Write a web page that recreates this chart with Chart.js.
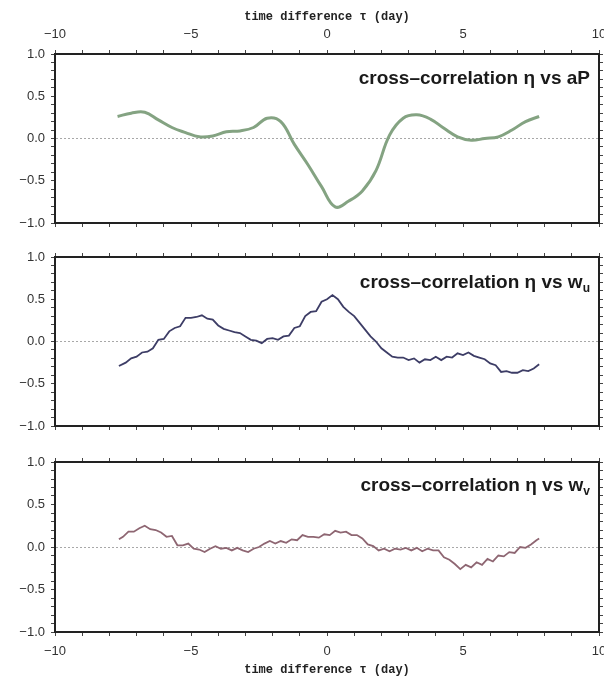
<!DOCTYPE html>
<html lang="en">
<head>
  <meta charset="UTF-8">
  <title>Cross-correlation vs time difference</title>
  <script src="https://cdn.jsdelivr.net/npm/chart.js"></script>
  <style>
    body { margin: 0; background: #fff; }
    #wrap { position: relative; width: 604px; height: 679px; overflow: hidden; }
    #wrap canvas { position: absolute; left: 0; }
    .ptitle {
      position: absolute;
      right: 14px;
      font: bold 19px "Liberation Sans", Arial, sans-serif;
      line-height: 20px;
      color: #1a1a1a;
      white-space: nowrap;
    }
    .ptitle sub { font-size: 12px; vertical-align: -4px; }
  </style>
</head>
<body>
  <div id="wrap">
    <canvas id="c1" width="604" height="240" style="top:0"></canvas>
    <canvas id="c2" width="604" height="200" style="top:240px"></canvas>
    <canvas id="c3" width="604" height="239" style="top:440px"></canvas>
    <div class="ptitle" style="top:68px">cross–correlation η vs aP</div>
    <div class="ptitle" style="top:272px">cross–correlation η vs w<sub>u</sub></div>
    <div class="ptitle" style="top:475px">cross–correlation η vs w<sub>v</sub></div>
  </div>

  <script>
    // time lag tau (day) and correlation values
    const tauAP = [-7.7, -7.2, -6.7, -6.2, -5.7, -5.2, -4.7, -4.2, -3.7, -3.2, -2.7, -2.2, -1.7, -1.2, -0.7, -0.2,
      0.3, 0.8, 1.3, 1.8, 2.3, 2.8, 3.3, 3.8, 4.3, 4.8, 5.3, 5.8, 6.3, 6.8, 7.3, 7.8];
    const etaAP = [0.26, 0.30, 0.31, 0.22, 0.13, 0.07, 0.02, 0.03, 0.08, 0.09, 0.13, 0.24, 0.20, -0.07, -0.31, -0.57,
      -0.81, -0.74, -0.62, -0.38, 0.04, 0.24, 0.28, 0.23, 0.12, 0.02, -0.02, 0.00, 0.02, 0.10, 0.20, 0.26];

    const tauWu = [-7.65, -7.4, -7.2, -7.0, -6.8, -6.6, -6.4, -6.2, -6.0, -5.8, -5.6, -5.4, -5.2, -5.0, -4.8, -4.6,
      -4.4, -4.2, -4.0, -3.8, -3.6, -3.4, -3.2, -3.0, -2.8, -2.6, -2.4, -2.2, -2.0, -1.8, -1.6, -1.4, -1.2, -1.0,
      -0.8, -0.6, -0.4, -0.2, 0.0, 0.2, 0.4, 0.6, 0.8, 1.0, 1.2, 1.4, 1.6, 1.8, 2.0, 2.2, 2.4, 2.6, 2.8, 3.0,
      3.2, 3.4, 3.6, 3.8, 4.0, 4.2, 4.4, 4.6, 4.8, 5.0, 5.2, 5.4, 5.6, 5.8, 6.0, 6.2, 6.4, 6.6, 6.8, 7.0, 7.2,
      7.4, 7.6, 7.8];
    const etaWu = [-0.29, -0.25, -0.20, -0.18, -0.13, -0.12, -0.08, 0.02, 0.03, 0.12, 0.16, 0.18, 0.28, 0.28, 0.29, 0.31,
      0.27, 0.26, 0.19, 0.15, 0.13, 0.11, 0.10, 0.06, 0.02, 0.01, -0.02, 0.03, 0.04, 0.02, 0.06, 0.07, 0.16, 0.18,
      0.30, 0.35, 0.36, 0.47, 0.50, 0.55, 0.50, 0.41, 0.35, 0.30, 0.22, 0.14, 0.06, 0.00, -0.08, -0.13, -0.18, -0.19, -0.19, -0.22,
      -0.20, -0.25, -0.21, -0.22, -0.18, -0.22, -0.18, -0.19, -0.14, -0.16, -0.13, -0.17, -0.19, -0.21, -0.26, -0.28, -0.36, -0.35, -0.37, -0.37, -0.34,
      -0.35, -0.32, -0.27];

    const tauWv = [-7.65, -7.5, -7.3, -7.1, -6.9, -6.7, -6.5, -6.3, -6.1, -5.9, -5.7, -5.5, -5.3, -5.1, -4.9, -4.7,
      -4.5, -4.3, -4.1, -3.9, -3.7, -3.5, -3.3, -3.1, -2.9, -2.7, -2.5, -2.3, -2.1, -1.9, -1.7, -1.5, -1.3, -1.1,
      -0.9, -0.7, -0.5, -0.3, -0.1, 0.1, 0.3, 0.5, 0.7, 0.9, 1.1, 1.3, 1.5, 1.7, 1.9, 2.1, 2.3, 2.5, 2.7, 2.9,
      3.1, 3.3, 3.5, 3.7, 3.9, 4.1, 4.3, 4.5, 4.7, 4.9, 5.1, 5.3, 5.5, 5.7, 5.9, 6.1, 6.3, 6.5, 6.7, 6.9, 7.1,
      7.3, 7.5, 7.7, 7.8];
    const etaWv = [0.09, 0.12, 0.18, 0.18, 0.22, 0.25, 0.21, 0.20, 0.17, 0.12, 0.13, 0.02, 0.02, 0.04, -0.02, -0.03,
      -0.06, -0.02, 0.01, -0.02, -0.01, -0.04, -0.01, -0.04, -0.06, -0.02, 0.00, 0.04, 0.07, 0.04, 0.07, 0.05, 0.09, 0.08,
      0.14, 0.12, 0.12, 0.11, 0.15, 0.14, 0.19, 0.17, 0.18, 0.14, 0.14, 0.10, 0.03, 0.01, -0.04, -0.02, -0.05, -0.02, -0.03, -0.01,
      -0.04, -0.01, -0.05, -0.02, -0.04, -0.04, -0.12, -0.15, -0.20, -0.26, -0.21, -0.24, -0.18, -0.21, -0.14, -0.17, -0.10, -0.11, -0.06, -0.07, 0.00,
      -0.01, 0.03, 0.08, 0.10];

    const xTitle = 'time difference τ (day)';

    const tickFont = { family: '"Liberation Sans", Arial, sans-serif', size: 13 };
    const titleFont = { family: '"Liberation Mono", "Courier New", monospace', size: 12, weight: 'bold' };
    const frame = { width: 2, color: '#222' };
    const minus = s => s.replace('-', '\u2212');

    function xAxis(pos, height, showLabels, withTitle, titlePad) {
      return {
        type: 'linear', position: pos, min: -10, max: 10,
        ticks: {
          display: showLabels, stepSize: 1, autoSkip: false, maxRotation: 0, padding: 8,
          font: tickFont, color: '#333',
          callback: v => (v % 5 === 0 ? minus(String(v)) : '')
        },
        grid: { drawOnChartArea: false, tickLength: 4, tickColor: '#444' },
        border: frame,
        title: { display: withTitle, text: xTitle, font: titleFont, color: '#222', padding: titlePad },
        afterFit: s => {
          s.height = height;
          // let the end labels hang over the frame instead of shrinking the plot
          s.paddingLeft = 0;
          s.paddingRight = 0;
        }
      };
    }

    function yAxis(pos, width, showLabels) {
      return {
        type: 'linear', position: pos, min: -1, max: 1,
        ticks: {
          display: showLabels, stepSize: 0.1, autoSkip: false, padding: 6,
          font: tickFont, color: '#333',
          callback: v => (Math.abs(v * 2 - Math.round(v * 2)) < 1e-6 ? minus(v.toFixed(1)) : '')
        },
        grid: {
          drawOnChartArea: showLabels, tickLength: 4, tickColor: '#444',
          color: c => (c.tick && c.tick.value === 0 ? '#a8a8a8' : 'rgba(0,0,0,0)')
        },
        border: { width: 2, color: '#222', dash: [2, 2] },
        afterFit: s => { s.width = width; }
      };
    }

    function makePanel(id, tau, eta, color, lw, tension, top, bottom) {
      const points = tau.map((t, i) => ({ x: t, y: eta[i] }));
      return new Chart(document.getElementById(id), {
        type: 'line',
        data: {
          datasets: [{
            data: points, borderColor: color, borderWidth: lw,
            pointRadius: 0, tension: tension, fill: false
          }]
        },
        options: {
          responsive: false, animation: false,
          layout: { padding: 0 },
          plugins: { legend: { display: false }, tooltip: { enabled: false } },
          scales: {
            x: top, xb: bottom,
            y: yAxis('left', 55, true),
            y2: yAxis('right', 5, false)
          }
        }
      });
    }

    makePanel('c1', tauAP, etaAP, '#84a382', 3, 0.4,
      xAxis('top', 54, true, true, { top: 10, bottom: 0 }),
      xAxis('bottom', 17, false, false, 0));
    makePanel('c2', tauWu, etaWu, '#3d3d66', 1.8, 0,
      xAxis('top', 17, false, false, 0),
      xAxis('bottom', 14, false, false, 0));
    makePanel('c3', tauWv, etaWv, '#8e6672', 1.8, 0,
      xAxis('top', 22, false, false, 0),
      xAxis('bottom', 47, true, true, { top: 0, bottom: 2 }));
  </script>
</body>
</html>
